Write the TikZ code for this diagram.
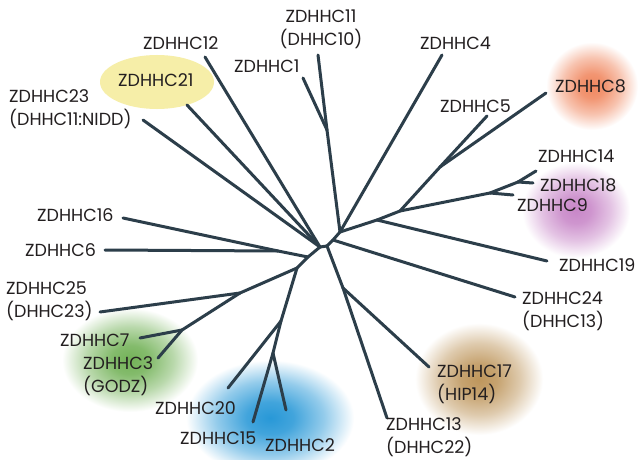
\documentclass[tikz,border=0pt]{standalone}
\usepackage{fontspec}
\setmainfont{Poppins}
\definecolor{treeline}{RGB}{44,62,74}
\definecolor{labeltext}{RGB}{35,31,32}
\definecolor{yellowblob}{RGB}{246,238,168}
\definecolor{orangeblob}{RGB}{240,135,95}
\definecolor{purpleblob}{RGB}{200,135,200}
\definecolor{greenblob}{RGB}{115,178,88}
\definecolor{blueblob}{RGB}{40,152,215}
\definecolor{brownblob}{RGB}{190,150,92}
\colorlet{glowc}{orangeblob}
% soft glow: full colour in the middle, white at the rim of the path (25bp)
\pgfdeclareradialshading[glowc]{glow}{\pgfpoint{0bp}{0bp}}{%
  color(0bp)=(glowc); color(7bp)=(glowc!88!white);
  color(16bp)=(glowc!50!white); color(25bp)=(white); color(50bp)=(white)}
\begin{document}
\begin{tikzpicture}[x=1pt,y=-1pt,
  branch/.style={draw=treeline, line width=3pt, line cap=round, line join=round},
  lbl/.style={font=\fontsize{17.5}{23}\selectfont, text=labeltext, inner sep=0pt, align=left},
  blob/.style={/utils/exec={\colorlet{glowc}{#1}}, shading=glow},
]
\useasboundingbox (0,0) rectangle (640,460);
\fill[white] (0,0) rectangle (640,460);

% coloured family highlights
\fill[yellowblob] (157,82) ellipse (57 and 27);
\shade[blob=orangeblob] (592,86) ellipse (46 and 44);
\shade[blob=purpleblob] (576,210) ellipse (54 and 48);
\shade[blob=greenblob] (130,360) ellipse (68 and 52);
\shade[blob=blueblob] (270,418) ellipse (84 and 58);
\shade[blob=brownblob] (479,379) ellipse (64 and 56);

% leaf ends
\coordinate (e12) at (205,57);
\coordinate (e21) at (187,105);
\coordinate (e23) at (143,120);
\coordinate (e16) at (123,218);
\coordinate (e6)  at (105,250);
\coordinate (e11) at (318,55);
\coordinate (e1)  at (303,78);
\coordinate (e4)  at (442,55);
\coordinate (e5)  at (487,116);
\coordinate (e8)  at (546,93);
\coordinate (e14) at (536,171);
\coordinate (e18) at (533,183);
\coordinate (e9)  at (513,195);
\coordinate (e19) at (547,261);
\coordinate (e24) at (515,297);
\coordinate (e25) at (100,312);
\coordinate (e7)  at (140,338);
\coordinate (e3)  at (158,358);
\coordinate (e20) at (228,388);
\coordinate (e15) at (253,422);
\coordinate (e2)  at (286,410);
\coordinate (e17) at (429,367);
\coordinate (e13) at (387,418);

% inner branch points
\coordinate (c1)   at (320,247);
\coordinate (c2)   at (327,246);
\coordinate (ja)   at (308,257);
\coordinate (j616) at (278,251);
\coordinate (j25)  at (297,268);
\coordinate (j3)   at (240,293);
\coordinate (j7)   at (182,330);
\coordinate (j20)  at (281,321);
\coordinate (j152) at (273,353);
\coordinate (j24)  at (333,240);
\coordinate (j11)  at (340,232);
\coordinate (j1)   at (327,130);
\coordinate (j19)  at (377,220);
\coordinate (j58x) at (400,211);
\coordinate (j58)  at (440,167);
\coordinate (j9)   at (490,193);
\coordinate (j1418) at (518,182);
\coordinate (j17)  at (343,288);

% tree
\draw[branch] (c1) -- (e12);
\draw[branch] (c1) -- (e21);
\draw[branch] (c1) -- (e23);
\draw[branch] (c1) -- (c2);
\draw[branch] (c1) -- (ja);
\draw[branch] (ja) -- (j616);
\draw[branch] (j616) -- (e16);
\draw[branch] (j616) -- (e6);
\draw[branch] (ja) -- (j25);
\draw[branch] (j25) -- (j3);
\draw[branch] (j3) -- (e25);
\draw[branch] (j3) -- (j7);
\draw[branch] (j7) -- (e7);
\draw[branch] (j7) -- (e3);
\draw[branch] (j25) -- (j20);
\draw[branch] (j20) -- (e20);
\draw[branch] (j20) -- (j152);
\draw[branch] (j152) -- (e15);
\draw[branch] (j152) -- (e2);
\draw[branch] (c2) -- (j24);
\draw[branch] (j24) -- (e24);
\draw[branch] (j24) -- (j11);
\draw[branch] (j11) -- (j1);
\draw[branch] (j1) -- (e11);
\draw[branch] (j1) -- (e1);
\draw[branch] (j11) -- (e4);
\draw[branch] (j11) -- (j19);
\draw[branch] (j19) -- (e19);
\draw[branch] (j19) -- (j58x);
\draw[branch] (j58x) -- (j58);
\draw[branch] (j58) -- (e5);
\draw[branch] (j58) -- (e8);
\draw[branch] (j58x) -- (j9);
\draw[branch] (j9) -- (e9);
\draw[branch] (j9) -- (j1418);
\draw[branch] (j1418) -- (e14);
\draw[branch] (j1418) -- (e18);
\draw[branch] (c2) -- (j17);
\draw[branch] (j17) -- (e17);
\draw[branch] (j17) -- (e13);

% labels
\node[lbl, anchor=west] (n12) at (143,43) {ZDHHC12};
\node[lbl, anchor=center, align=center] (n11) at (321,29) {ZDHHC11\\(DHHC10)};
\node[lbl, anchor=west] (n1) at (234,66) {ZDHHC1};
\node[lbl, anchor=west] (n4) at (420,43) {ZDHHC4};
\node[lbl, anchor=west] (n21) at (118,80) {ZDHHC21};
\node[lbl, anchor=west] (n23) at (9,109) {ZDHHC23\\(DHHC11:NIDD)};
\node[lbl, anchor=west] (n5) at (440,106) {ZDHHC5};
\node[lbl, anchor=west] (n8) at (555,86) {ZDHHC8};
\node[lbl, anchor=west] (n14) at (538,156) {ZDHHC14};
\node[lbl, anchor=west] (n18) at (540,185) {ZDHHC18};
\node[lbl, anchor=west] (n9) at (517,205) {ZDHHC9};
\node[lbl, anchor=west] (n16) at (37,215) {ZDHHC16};
\node[lbl, anchor=west] (n6) at (25,250) {ZDHHC6};
\node[lbl, anchor=west] (n19) at (559,265) {ZDHHC19};
\node[lbl, anchor=west] (n25) at (6,301) {ZDHHC25\\(DHHC23)};
\node[lbl, anchor=west] (n24) at (522,311) {ZDHHC24\\(DHHC13)};
\node[lbl, anchor=west] (n7) at (60,340) {ZDHHC7};
\node[lbl, anchor=west] (n3) at (83,376) {ZDHHC3\\(GODZ)};
\node[lbl, anchor=west] (n17) at (437,384) {ZDHHC17\\(HIP14)};
\node[lbl, anchor=west] (n20) at (155,408) {ZDHHC20};
\node[lbl, anchor=west] (n15) at (180,438) {ZDHHC15};
\node[lbl, anchor=west] (n2) at (265,445) {ZDHHC2};
\node[lbl, anchor=west] (n13) at (386,437) {ZDHHC13\\(DHHC22)};
\end{tikzpicture}
\end{document}
